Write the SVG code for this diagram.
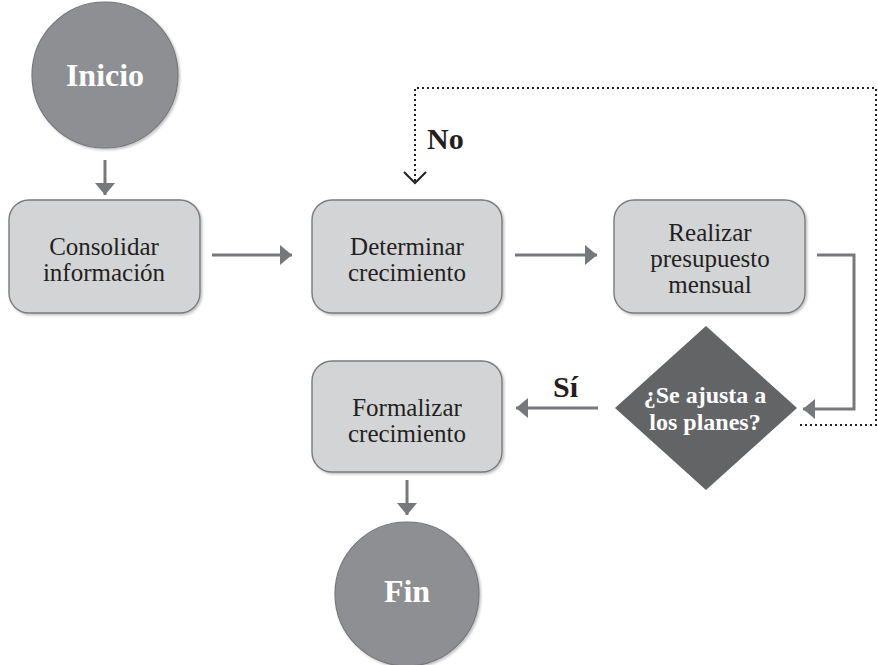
<svg xmlns="http://www.w3.org/2000/svg" width="878" height="665" viewBox="0 0 878 665">
  <defs>
    <filter id="shadow" x="-10%" y="-10%" width="125%" height="125%">
      <feDropShadow dx="1.5" dy="1.5" stdDeviation="1.2" flood-color="#000" flood-opacity="0.25"/>
    </filter>
    <marker id="head" viewBox="0 0 12 20" refX="12" refY="10" markerWidth="12" markerHeight="20" markerUnits="userSpaceOnUse" orient="auto">
      <path d="M0,0 L12,10 L0,20 Z" fill="#77787b"/>
    </marker>
    <marker id="chevron" viewBox="0 0 14 24" refX="12" refY="12" markerWidth="14" markerHeight="24" markerUnits="userSpaceOnUse" orient="auto">
      <path d="M1,1 L12,12 L1,23" fill="none" stroke="#222" stroke-width="2"/>
    </marker>
  </defs>
  <style>
    .term { fill: #8e8f92; stroke: #76777a; stroke-width: 1.2; }
    .box { fill: #d3d4d6; stroke: #7a7b7e; stroke-width: 1.4; }
    .decision { fill: #636466; }
    .flow { fill: none; stroke: #77787b; stroke-width: 3; }
    .loop { fill: none; stroke: #222; stroke-width: 2; stroke-dasharray: 2 3; }
    .label { font-size: 25px; fill: #231f20; text-anchor: middle; }
    .big { font-weight: bold; font-size: 32px; fill: #fff; text-anchor: middle; }
    .dtext { font-weight: bold; font-size: 24px; fill: #fff; text-anchor: middle; }
    .tag { font-weight: bold; font-size: 30px; fill: #231f20; }
  </style>

  <g id="connectors">
    <line class="flow" x1="105" y1="160" x2="105" y2="195" marker-end="url(#head)"/>
    <line class="flow" x1="212" y1="255" x2="292" y2="255" marker-end="url(#head)"/>
    <line class="flow" x1="515" y1="255" x2="597" y2="255" marker-end="url(#head)"/>
    <polyline class="flow" points="817,255 854,255 854,409 803,409" marker-end="url(#head)"/>
    <line class="flow" x1="598" y1="408" x2="516" y2="408" marker-end="url(#head)"/>
    <line class="flow" x1="407" y1="480" x2="407" y2="515" marker-end="url(#head)"/>
    <polyline class="loop" points="800,425 876,425 876,88 415,88 415,183" marker-end="url(#chevron)"/>
    <text class="tag" x="427" y="149" font-family="Liberation Serif">No</text>
    <text class="tag" x="553" y="397" font-family="Liberation Serif">Sí</text>
  </g>

  <g id="inicio">
    <circle class="term" cx="105" cy="75" r="73" filter="url(#shadow)"/>
    <text class="big" x="105" y="86" font-family="Liberation Serif">Inicio</text>
  </g>

  <g id="consolidar">
    <rect class="box" x="9" y="200" width="191" height="113" rx="20" filter="url(#shadow)"/>
    <text class="label" x="104" y="255" font-family="Liberation Serif">Consolidar</text>
    <text class="label" x="104" y="281" font-family="Liberation Serif">información</text>
  </g>

  <g id="determinar">
    <rect class="box" x="312" y="200" width="190" height="113" rx="20" filter="url(#shadow)"/>
    <text class="label" x="407" y="255" font-family="Liberation Serif">Determinar</text>
    <text class="label" x="407" y="281" font-family="Liberation Serif">crecimiento</text>
  </g>

  <g id="realizar">
    <rect class="box" x="614" y="200" width="191" height="113" rx="20" filter="url(#shadow)"/>
    <text class="label" x="710" y="241" font-family="Liberation Serif">Realizar</text>
    <text class="label" x="710" y="267" font-family="Liberation Serif">presupuesto</text>
    <text class="label" x="710" y="293" font-family="Liberation Serif">mensual</text>
  </g>

  <g id="decision">
    <polygon class="decision" points="706,326 797,408 706,490 615,408"/>
    <text class="dtext" x="705" y="403" font-family="Liberation Serif">¿Se ajusta a</text>
    <text class="dtext" x="705" y="430" font-family="Liberation Serif">los planes?</text>
  </g>

  <g id="formalizar">
    <rect class="box" x="312" y="361" width="190" height="111" rx="20" filter="url(#shadow)"/>
    <text class="label" x="407" y="416" font-family="Liberation Serif">Formalizar</text>
    <text class="label" x="407" y="442" font-family="Liberation Serif">crecimiento</text>
  </g>

  <g id="fin">
    <circle class="term" cx="407" cy="594" r="72" filter="url(#shadow)"/>
    <text class="big" x="407" y="602" font-family="Liberation Serif">Fin</text>
  </g>
</svg>
